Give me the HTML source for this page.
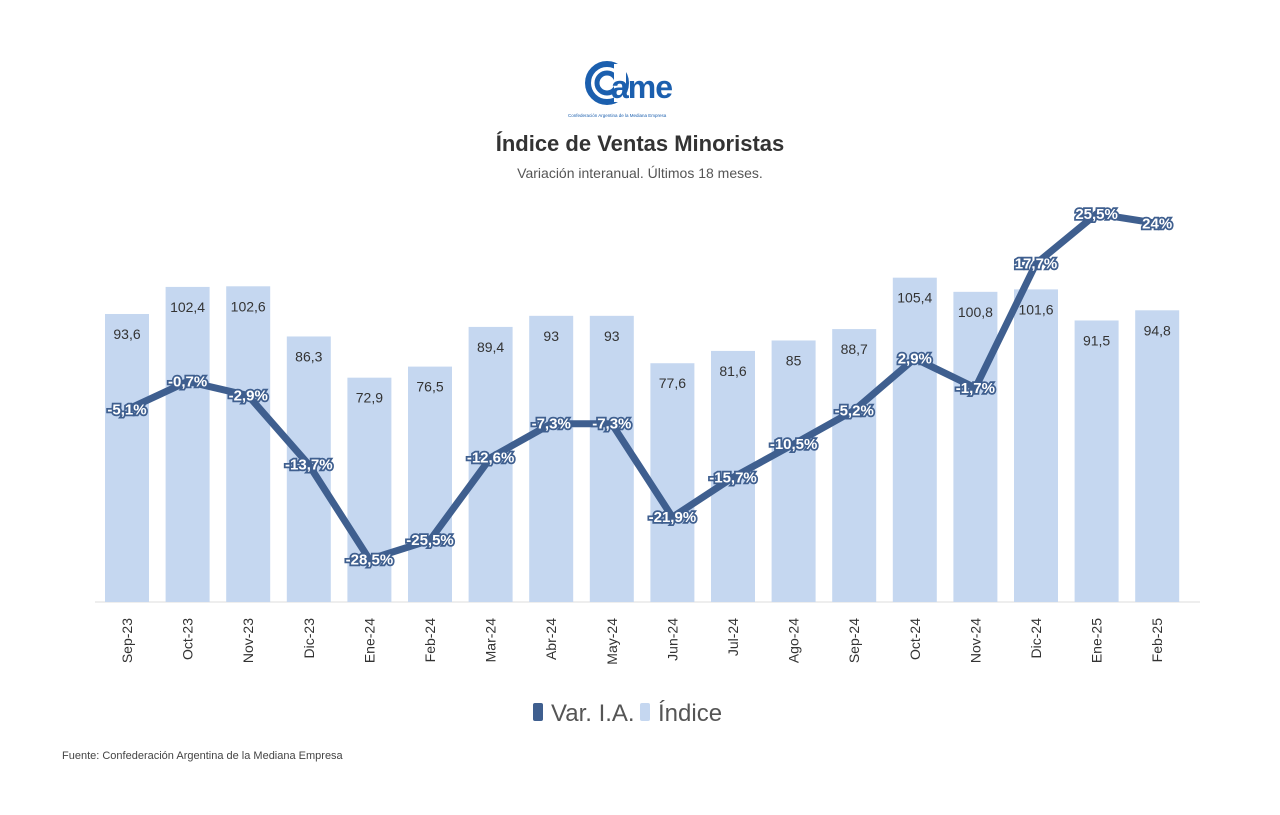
<!DOCTYPE html>
<html><head><meta charset="utf-8"><style>
body{margin:0;background:#fff;width:1280px;height:810px;overflow:hidden;font-family:"Liberation Sans",sans-serif}
</style></head><body>
<svg width="1280" height="810" xmlns="http://www.w3.org/2000/svg" font-family="Liberation Sans, sans-serif">
<circle cx="607" cy="83" r="19" fill="none" stroke="#1b5fae" stroke-width="6"/>
<circle cx="607" cy="83" r="10" fill="none" stroke="#1b5fae" stroke-width="5"/>
<rect x="614" y="64" width="12" height="38" fill="#fff"/>
<text x="611" y="98" font-size="32" font-weight="bold" fill="#1b5fae" letter-spacing="-1">ame</text>
<text x="568" y="117" font-size="4.5" fill="#1b5fae">Confederación Argentina de la Mediana Empresa</text>
<text x="640" y="151" text-anchor="middle" font-size="22" font-weight="bold" fill="#333">Índice de Ventas Minoristas</text>
<text x="640" y="178" text-anchor="middle" font-size="14" fill="#555">Variación interanual. Últimos 18 meses.</text>
<line x1="95" y1="602" x2="1200" y2="602" stroke="#ddd"/>
<g id="bars"></g>
<g id="line"></g>
<g transform="translate(533,712)"><rect x="0" y="-9" width="10" height="18" fill="#3f5f8f" rx="2"/><text x="18" y="9" font-size="24" fill="#555">Var. I.A.</text></g>
<g transform="translate(640,712)"><rect x="0" y="-9" width="10" height="18" fill="#c5d7f0" rx="2"/><text x="18" y="9" font-size="24" fill="#555">Índice</text></g>
<text x="62" y="759" font-size="11" fill="#444">Fuente: Confederación Argentina de la Mediana Empresa</text>
</svg>
<script>
var m=["Sep-23","Oct-23","Nov-23","Dic-23","Ene-24","Feb-24","Mar-24","Abr-24","May-24","Jun-24","Jul-24","Ago-24","Sep-24","Oct-24","Nov-24","Dic-24","Ene-25","Feb-25"];
var b=[93.6,102.4,102.6,86.3,72.9,76.5,89.4,93,93,77.6,81.6,85,88.7,105.4,100.8,101.6,91.5,94.8];
var v=[-5.1,-0.7,-2.9,-13.7,-28.5,-25.5,-12.6,-7.3,-7.3,-21.9,-15.7,-10.5,-5.2,2.9,-1.7,17.7,25.5,24];
var NS="http://www.w3.org/2000/svg",G=document.getElementById("bars"),L=document.getElementById("line");
function el(t,a,p,txt){var e=document.createElementNS(NS,t);for(var k in a)e.setAttribute(k,a[k]);if(txt!=null)e.textContent=txt;p.appendChild(e);return e;}
var pts=[];
for(var i=0;i<18;i++){var cx=127+i*60.6,h=b[i]*3.077;
el("rect",{x:cx-22,y:602-h,width:44,height:h,fill:"#c5d7f0"},G);
el("text",{x:cx,y:602-h+25,"text-anchor":"middle","font-size":"14",fill:"#333"},G,String(b[i]).replace(".",","));
el("text",{transform:"translate("+(cx+5)+",618) rotate(-90)","text-anchor":"end","font-size":"14",fill:"#333"},G,m[i]);
pts.push([cx,377-6.4*v[i]]);}
el("polyline",{points:pts.map(function(p){return p.join(",")}).join(" "),fill:"none",stroke:"#3f5f8f","stroke-width":"7","stroke-linejoin":"round"},L);
for(var i=0;i<18;i++){el("text",{x:pts[i][0],y:pts[i][1]+5,"text-anchor":"middle","font-size":"15","font-weight":"bold",fill:"#fff",stroke:"#3f5f8f","stroke-width":"3.5","paint-order":"stroke"},L,String(v[i]).replace(".",",")+"%");}
</script>
</body></html>
